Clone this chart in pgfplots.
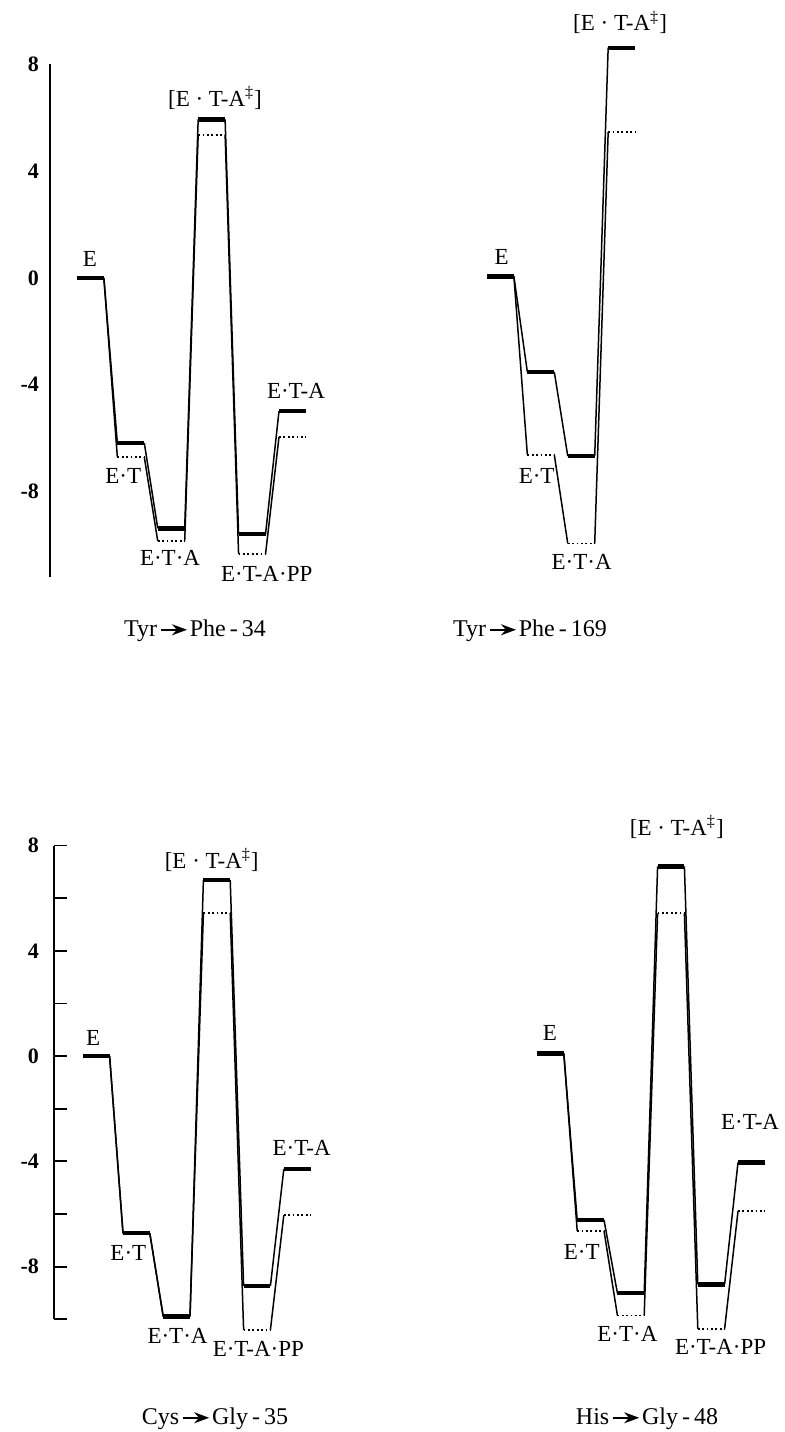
\documentclass[border=0pt]{standalone}
\usepackage{fontspec}
\setmainfont{Liberation Serif}
\usepackage{pgfplots}
\pgfplotsset{compat=1.18}
\usetikzlibrary{arrows.meta}
\newcommand{\arr}{\hspace{1.5bp}\tikz[baseline=-0.62ex]\draw[line width=0.9bp,-{Stealth[length=7.5bp,width=5.5bp]}] (0,0)--(13bp,0);\hspace{1bp}}
\newcommand{\lf}{\fontsize{11.5bp}{13bp}\selectfont}
\tikzset{
  lab/.style={font=\lf, anchor=base, inner sep=0pt},
  tl/.style={font=\fontsize{11bp}{12bp}\selectfont\bfseries},
  captxt/.style={font=\fontsize{12bp}{14bp}\selectfont, anchor=base, inner sep=0pt},
}
\pgfplotsset{
  lev/.style={line width=2.2bp, line cap=butt, black},
  con/.style={line width=0.75bp, black},
  dot/.style={line width=0.9bp, black, dash pattern=on 0.9bp off 1.3bp},
  en/.style={clip=false, unbounded coords=jump, anchor=south west},
}
\begin{document}
\begin{tikzpicture}
\useasboundingbox (0,0) rectangle (392.5bp,-716bp);
% ---------- Panel 1: Tyr -> Phe-34
\begin{axis}[en, at={(25bp,-288.45bp)}, x=6.735bp, y=13.345bp,
  xmin=0, xmax=20, ymin=-11.2, ymax=8,
  axis x line=none, axis y line=left, y axis line style={-, line width=1bp},
  ytick={8,4,0,-4,-8}, yticklabels={8,4,0,-4,-8}, major tick length=0pt,
  yticklabel style={tl, xshift=-2bp}]
\addplot[dot] coordinates {(5,-6.71) (7,-6.71) (7,nan) (8,-9.86) (10,-9.86) (10,nan) (11,5.37) (13,5.37) (13,nan) (14,-10.35) (16,-10.35) (16,nan) (17,-5.96) (19,-5.96)};
\addplot[con] coordinates {(4,0) (5,-6.71) (5,nan) (7,-6.71) (8,-9.86) (8,nan) (10,-9.86) (11,5.37) (11,nan) (13,5.37) (14,-10.35) (14,nan) (16,-10.35) (17,-5.96)};
\addplot[con] coordinates {(4,0) (5,-6.18) (5,nan) (7,-6.18) (8,-9.38) (8,nan) (10,-9.38) (11,5.94) (11,nan) (13,5.94) (14,-9.6) (14,nan) (16,-9.6) (17,-4.99)};
\addplot[lev] coordinates {(2,0) (4,0) (4,nan) (5,-6.18) (7,-6.18) (7,nan) (8,-9.38) (10,-9.38) (10,nan) (11,5.94) (13,5.94) (13,nan) (14,-9.6) (16,-9.6) (16,nan) (17,-4.99) (19,-4.99)};
\node[lab] at (axis cs:2.97,0.44) {E};
\node[lab] at (axis cs:12.25,6.43) {[E · T-A\textsuperscript{‡}]};
\node[lab] at (axis cs:5.44,-7.69) {E·T};
\node[lab] at (axis cs:8.91,-10.79) {E·T·A};
\node[lab] at (axis cs:16.09,-11.37) {E·T-A·PP};
\node[lab] at (axis cs:18.26,-4.53) {E·T-A};
\end{axis}
% ---------- Panel 2: Tyr -> Phe-169
\begin{axis}[en, at={(230bp,-298bp)}, x=6.735bp, y=13.32bp,
  xmin=0, xmax=20, ymin=-12, ymax=10, hide axis]
\addplot[dot] coordinates {(5,-6.70) (7,-6.70) (7,nan) (8,-10.03) (10,-10.03) (10,nan) (11,5.42) (13,5.42)};
\addplot[con] coordinates {(4,0) (5,-6.70) (5,nan) (7,-6.70) (8,-10.03) (8,nan) (10,-10.03) (11,5.42)};
\addplot[con] coordinates {(4,0) (5,-3.59) (5,nan) (7,-3.59) (8,-6.75) (8,nan) (10,-6.75) (11,8.58)};
\addplot[lev] coordinates {(2,0) (4,0) (4,nan) (5,-3.59) (7,-3.59) (7,nan) (8,-6.75) (10,-6.75) (10,nan) (11,8.58) (13,8.58)};
\node[lab] at (axis cs:3.1,0.43) {E};
\node[lab] at (axis cs:11.88,9.22) {[E · T-A\textsuperscript{‡}]};
\node[lab] at (axis cs:5.69,-7.76) {E·T};
\node[lab] at (axis cs:9.03,-10.99) {E·T·A};
\end{axis}
% ---------- Panel 3: Cys -> Gly-35
\begin{axis}[en, at={(27bp,-659.65bp)}, x=6.7bp, y=13.16bp,
  xmin=-0.15, xmax=20, ymin=-10, ymax=8,
  axis x line=none, axis y line=left, y axis line style={-, line width=1bp},
  ytick={8,4,0,-4,-8}, yticklabels={8,4,0,-4,-8}, minor ytick={6,2,-2,-6,-10},
  tick align=inside, major tick length=6.7bp, minor tick length=6.7bp,
  major tick style={black, line width=0.9bp}, minor tick style={black, line width=0.9bp},
  yticklabel style={tl, xshift=-4bp}]
\addplot[dot] coordinates {(11,5.43) (13,5.43) (13,nan) (14,-10.4) (16,-10.4) (16,nan) (17,-6.04) (19,-6.04)};
\addplot[con] coordinates {(4,0) (5,-6.73) (5,nan) (7,-6.73) (8,-9.89) (8,nan) (10,-9.89) (11,5.43) (11,nan) (13,5.43) (14,-10.4) (14,nan) (16,-10.4) (17,-6.04)};
\addplot[con] coordinates {(4,0) (5,-6.73) (5,nan) (7,-6.73) (8,-9.89) (8,nan) (10,-9.89) (11,6.69) (11,nan) (13,6.69) (14,-8.73) (14,nan) (16,-8.73) (17,-4.29)};
\addplot[lev] coordinates {(2,0) (4,0) (4,nan) (5,-6.73) (7,-6.73) (7,nan) (8,-9.89) (10,-9.89) (10,nan) (11,6.69) (13,6.69) (13,nan) (14,-8.73) (16,-8.73) (16,nan) (17,-4.29) (19,-4.29)};
\node[lab] at (axis cs:2.78,0.41) {E};
\node[lab] at (axis cs:11.62,7.13) {[E · T-A\textsuperscript{‡}]};
\node[lab] at (axis cs:5.4,-7.78) {E·T};
\node[lab] at (axis cs:9.07,-10.91) {E·T·A};
\node[lab] at (axis cs:15.1,-11.43) {E·T-A·PP};
\node[lab] at (axis cs:18.33,-3.78) {E·T-A};
\end{axis}
% ---------- Panel 4: His -> Gly-48
\begin{axis}[en, at={(255.1bp,-685.65bp)}, x=6.7bp, y=13.25bp,
  xmin=0, xmax=20, ymin=-12, ymax=10, hide axis]
\addplot[dot] coordinates {(5,-6.70) (7,-6.70) (7,nan) (8,-9.89) (10,-9.89) (10,nan) (11,5.28) (13,5.28) (13,nan) (14,-10.4) (16,-10.4) (16,nan) (17,-5.96) (19,-5.96)};
\addplot[con] coordinates {(4,0) (5,-6.70) (5,nan) (7,-6.70) (8,-9.89) (8,nan) (10,-9.89) (11,5.28) (11,nan) (13,5.28) (14,-10.4) (14,nan) (16,-10.4) (17,-5.96)};
\addplot[con] coordinates {(4,0) (5,-6.29) (5,nan) (7,-6.29) (8,-9.05) (8,nan) (10,-9.05) (11,7.05) (11,nan) (13,7.05) (14,-8.72) (14,nan) (16,-8.72) (17,-4.12)};
\addplot[lev] coordinates {(2,0) (4,0) (4,nan) (5,-6.29) (7,-6.29) (7,nan) (8,-9.05) (10,-9.05) (10,nan) (11,7.05) (13,7.05) (13,nan) (14,-8.72) (16,-8.72) (16,nan) (17,-4.12) (19,-4.12)};
\node[lab] at (axis cs:2.97,0.5) {E};
\node[lab] at (axis cs:12.43,8.23) {[E · T-A\textsuperscript{‡}]};
\node[lab] at (axis cs:5.34,-7.77) {E·T};
\node[lab] at (axis cs:8.75,-10.88) {E·T·A};
\node[lab] at (axis cs:15.7,-11.36) {E·T-A·PP};
\node[lab] at (axis cs:17.9,-2.87) {E·T-A};
\end{axis}
% ---------- captions
\node[captxt] at (97.5bp,-318.3bp) {Tyr\arr Phe\,-\,34};
\node[captxt] at (265bp,-318.3bp) {Tyr\arr Phe\,-\,169};
\node[captxt] at (107.5bp,-712.3bp) {Cys\arr Gly\,-\,35};
\node[captxt] at (323.5bp,-712.3bp) {His\arr Gly\,-\,48};
\end{tikzpicture}
\end{document}
